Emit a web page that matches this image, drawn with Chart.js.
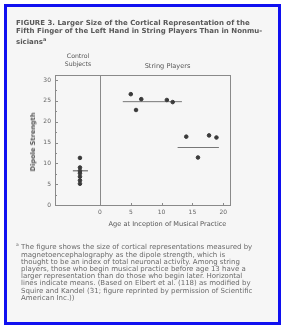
<!DOCTYPE html>
<html>
<head>
<meta charset="utf-8">
<script src="https://cdn.jsdelivr.net/npm/chart.js@4"></script>
<style>
  html, body { margin: 0; padding: 0; background: #fff; }
  #wrap { position: relative; width: 282px; height: 327px; overflow: hidden; font-family: "DejaVu Sans", sans-serif; color: #555; }
  #frame { position: absolute; left: 4px; top: 4px; width: 271px; height: 315px; border: 3px solid #1010f0; background: #f6f6f6; }
  canvas { position: absolute; left: 0; top: 0; }
  .txt { position: absolute; white-space: nowrap; }
  #title { left: 16px; top: 19px; font-size: 7px; font-weight: bold; line-height: 8px; color: #585858; }
  #ctrl { left: 58px; top: 52px; width: 40px; text-align: center; font-size: 6.2px; line-height: 8px; }
  #str { left: 135px; top: 62px; width: 65px; text-align: center; font-size: 6.6px; }
  #ylab { left: 33px; top: 142px; font-size: 6.6px; font-weight: bold; transform: translate(-50%, -50%) rotate(-90deg); }
  #xlab { left: 100px; top: 220px; width: 135px; text-align: center; font-size: 6.6px; }
  #note { left: 16px; top: 241px; font-size: 7px; line-height: 7.2px; color: #6a6a6a; }
  #note span.i { padding-left: 5px; }
</style>
</head>
<body>
<div id="wrap">
  <div id="frame"></div>
  <canvas id="c" width="282" height="327"></canvas>
  <div class="txt" id="title">FIGURE 3. Larger Size of the Cortical Representation of the<br>Fifth Finger of the Left Hand in String Players Than in Nonmu-<br>sicians<sup style="font-size:5px">a</sup></div>
  <div class="txt" id="ctrl">Control<br>Subjects</div>
  <div class="txt" id="str">String Players</div>
  <div class="txt" id="ylab">Dipole Strength</div>
  <div class="txt" id="xlab">Age at Inception of Musical Practice</div>
  <div class="txt" id="note"><sup style="font-size:4.5px">a</sup> The figure shows the size of cortical representations measured by<br><span class="i">magnetoencephalography as the dipole strength, which is</span><br><span class="i">thought to be an index of total neuronal activity. Among string</span><br><span class="i">players, those who begin musical practice before age 13 have a</span><br><span class="i">larger representation than do those who begin later. Horizontal</span><br><span class="i">lines indicate means. (Based on Elbert et al. (118) as modified by</span><br><span class="i">Squire and Kandel (31; figure reprinted by permission of Scientific</span><br><span class="i">American Inc.))</span></div>
</div>
<script>
// control subjects (plotted left of the divider)
const controlX = [-3.25, -3.25, -3.25, -3.25, -3.25, -3.25, -3.25];
const controlY = [11.3, 9.0, 8.2, 7.6, 6.8, 5.9, 5.1];
const controlMeanX = [-4.4, -1.95];
const controlMeanY = [8.2, 8.2];

// string players: age at inception vs dipole strength
const playerAge = [5.0, 5.85, 6.7, 10.85, 11.8, 14.0, 15.9, 17.7, 18.9];
const playerDipole = [26.6, 22.8, 25.4, 25.2, 24.7, 16.4, 11.4, 16.7, 16.2];
const earlyMeanX = [3.7, 13.3];
const earlyMeanY = [24.8, 24.8];
const lateMeanX = [12.6, 19.3];
const lateMeanY = [13.8, 13.8];

const xTicks = [0, 5, 10, 15, 20];
const yTicks = [0, 2.5, 5, 7.5, 10, 12.5, 15, 17.5, 20, 22.5, 25, 27.5, 30];

const pts = (xs, ys) => xs.map((x, i) => ({ x: x, y: ys[i] }));

const AXIS = '#8a8a8a';
const INK = '#3a3a3a';

// frame round the plot, divider at age 0 and inward tick marks
const framePlugin = {
  id: 'framePlugin',
  afterDatasetsDraw(chart) {
    const { ctx, chartArea: a, scales } = chart;
    ctx.save();
    ctx.strokeStyle = AXIS;
    ctx.lineWidth = 1;
    ctx.strokeRect(a.left + 0.5, a.top + 0.5, a.right - a.left, a.bottom - a.top);
    const x0 = Math.round(scales.x.getPixelForValue(0)) + 0.5;
    ctx.beginPath();
    ctx.moveTo(x0, a.top);
    ctx.lineTo(x0, a.bottom);
    yTicks.forEach(v => {
      const y = Math.round(scales.y.getPixelForValue(v)) + 0.5;
      ctx.moveTo(a.left, y);
      ctx.lineTo(a.left + (v % 5 === 0 ? 3 : 2), y);
    });
    xTicks.forEach(v => {
      const x = Math.round(scales.x.getPixelForValue(v)) + 0.5;
      ctx.moveTo(x, a.bottom);
      ctx.lineTo(x, a.bottom - 2);
    });
    ctx.stroke();
    ctx.restore();
  }
};

new Chart(document.getElementById('c'), {
  type: 'scatter',
  data: {
    datasets: [
      { data: pts(controlX, controlY), backgroundColor: INK, borderColor: INK, pointRadius: 1.8, pointStyle: 'circle' },
      { data: pts(playerAge, playerDipole), backgroundColor: INK, borderColor: INK, pointRadius: 1.8, pointStyle: 'circle' },
      { type: 'line', data: pts(controlMeanX, controlMeanY), borderColor: '#555', borderWidth: 1, pointRadius: 0 },
      { type: 'line', data: pts(earlyMeanX, earlyMeanY), borderColor: '#777', borderWidth: 1, pointRadius: 0 },
      { type: 'line', data: pts(lateMeanX, lateMeanY), borderColor: '#777', borderWidth: 1, pointRadius: 0 }
    ]
  },
  options: {
    responsive: false,
    animation: false,
    layout: { padding: { left: 0, top: 75, right: 52, bottom: 0 } },
    plugins: { legend: { display: false }, tooltip: { enabled: false } },
    scales: {
      x: {
        type: 'linear',
        min: -7.3,
        max: 21.1,
        afterBuildTicks: s => { s.ticks = xTicks.map(v => ({ value: v })); },
        afterFit: s => { s.height = 122; },
        grid: { display: false, drawTicks: false, tickLength: 0 },
        border: { display: false },
        ticks: { color: '#666', font: { size: 6, family: 'DejaVu Sans' }, padding: 4, maxRotation: 0 }
      },
      y: {
        type: 'linear',
        min: 0,
        max: 31.2,
        afterBuildTicks: s => { s.ticks = yTicks.map(v => ({ value: v })); },
        afterFit: s => { s.width = 55; },
        grid: { display: false, drawTicks: false, tickLength: 0 },
        border: { display: false },
        ticks: {
          color: '#666',
          font: { size: 6, family: 'DejaVu Sans' },
          padding: 4,
          autoSkip: false,
          callback: v => (v % 5 === 0 ? String(v) : '')
        }
      }
    }
  },
  plugins: [framePlugin]
});
</script>
</body>
</html>
